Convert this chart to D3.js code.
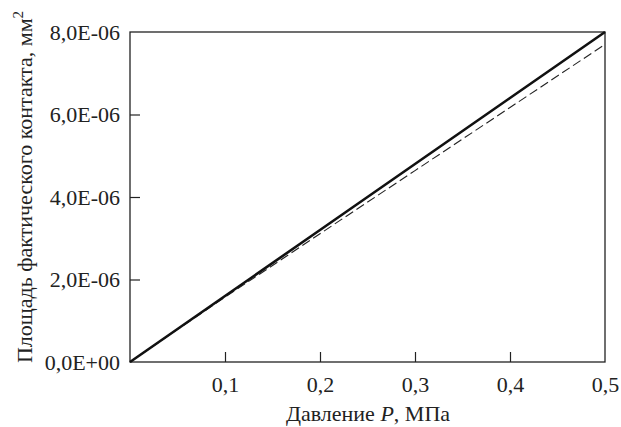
<!DOCTYPE html>
<html><head><meta charset="utf-8">
<script src="https://cdn.jsdelivr.net/npm/d3@7"></script>
<style>body{margin:0;background:#fff}</style>
</head><body>
<svg id="c" width="621" height="427"></svg>
<script>
const xTicks = [0.1, 0.2, 0.3, 0.4, 0.5];
const yTicks = [0, 2e-6, 4e-6, 6e-6, 8e-6];
const yTickLabels = ["0,0E+00", "2,0E-06", "4,0E-06", "6,0E-06", "8,0E-06"];
const xTickLabels = ["0,1", "0,2", "0,3", "0,4", "0,5"];
const pressure = [0, 0.05, 0.1, 0.2, 0.3, 0.4, 0.5];
const areaSolid = [0, 0.8e-6, 1.6e-6, 3.2e-6, 4.8e-6, 6.4e-6, 8.0e-6];
const areaDashed = [0, 0.79e-6, 1.57e-6, 3.11e-6, 4.64e-6, 6.17e-6, 7.7e-6];

const svg = d3.select("#c");
const m = {l:130, r:605, t:32, b:362};
const x = d3.scaleLinear().domain([0,0.5]).range([m.l,m.r]);
const y = d3.scaleLinear().domain([0,8e-6]).range([m.b,m.t]);

svg.append("rect").attr("x",m.l).attr("y",m.t).attr("width",m.r-m.l).attr("height",m.b-m.t)
  .attr("fill","none").attr("stroke","#222").attr("stroke-width",1.3);

const xAxis = svg.append("g").attr("transform",`translate(0,${m.b})`)
  .call(d3.axisBottom(x).tickValues(xTicks).tickSize(-10).tickPadding(14).tickFormat((d,i)=>xTickLabels[i]));
const yAxis = svg.append("g").attr("transform",`translate(${m.l},0)`)
  .call(d3.axisLeft(y).tickValues(yTicks).tickSize(-10).tickPadding(10).tickFormat((d,i)=>yTickLabels[i]));
[xAxis,yAxis].forEach(a=>{
  a.attr("font-family", null).attr("font-size", 22);
  a.select(".domain").remove();
  a.selectAll(".tick line").attr("stroke","#222").attr("stroke-width",1.2);
  a.selectAll(".tick text").attr("fill","#222");
});
xAxis.selectAll(".tick line").filter(d=>d===0.5).remove();
yAxis.selectAll(".tick line").filter(d=>d===0||d===8e-6).remove();

const line = d3.line().x((d,i)=>x(pressure[i])).y(d=>y(d));
svg.append("path").datum(areaDashed).attr("d",line).attr("fill","none")
  .attr("stroke","#222").attr("stroke-width",1.1).attr("stroke-dasharray","9,4");
svg.append("path").datum(areaSolid).attr("d",line).attr("fill","none")
  .attr("stroke","#111").attr("stroke-width",2.6);

const xt = svg.append("text").attr("x",368).attr("y",421).attr("text-anchor","middle")
  .attr("font-size",22).attr("fill","#222");
xt.append("tspan").text("Давление ");
xt.append("tspan").style("font-style","italic").text("P");
xt.append("tspan").text(", МПа");

const yt = svg.append("text").attr("transform","translate(32,187) rotate(-90)").attr("text-anchor","middle")
  .attr("font-size",22).attr("fill","#222");
yt.append("tspan").text("Площадь фактического контакта, мм");
yt.append("tspan").attr("dy",-9).attr("font-size",15).text("2");

svg.selectAll("text").each(function(){
  this.style.setProperty("font-family", '"Liberation Serif", "Times New Roman", Tinos', "important");
});
</script>
</body></html>
